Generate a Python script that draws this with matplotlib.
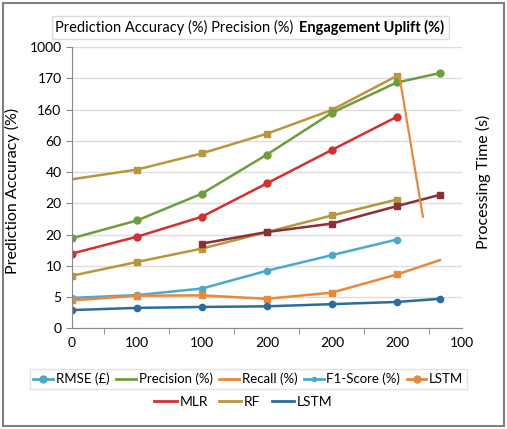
import matplotlib
matplotlib.use('Agg')
from matplotlib import pyplot as plt
from matplotlib.lines import Line2D
from matplotlib.patches import Rectangle

plt.rcParams['font.family'] = ['Lato', 'DejaVu Sans']

# category axis labels (as printed on the chart)
x_labels = ['0', '100', '100', '200', '200', '200', '100']
y_labels = ['0', '5', '10', '20', '20', '40', '60', '160', '170', '1000']

x_main = [0, 1, 2, 3, 4, 5]
x_ext = [0, 1, 2, 3, 4, 5, 5.66]

rf_top = [4.77, 5.08, 5.60, 6.23, 6.99, 8.08]
precision = [2.88, 3.45, 4.31, 5.56, 6.90, 7.87, 8.17]
mlr_red = [2.39, 2.93, 3.57, 4.64, 5.71, 6.77]
rf_low = [1.68, 2.12, 2.55, 3.08, 3.61, 4.12]
mlr_dark_x = [2, 3, 4, 5, 5.66]
mlr_dark = [2.71, 3.08, 3.35, 3.91, 4.27]
f1 = [0.97, 1.06, 1.27, 1.84, 2.34, 2.84]
recall = [0.89, 1.04, 1.05, 0.94, 1.14, 1.72, 2.18]
lstm = [0.58, 0.65, 0.68, 0.70, 0.77, 0.84, 0.94]
drop_x = [5.04, 5.40]
drop_y = [8.06, 3.57]

c_green = '#6b9e3c'
c_red = '#d3302f'
c_maroon = '#8c2f36'
c_gold = '#b8963c'
c_lblue = '#4aaac8'
c_orange = '#e8883a'
c_blue = '#2a6c9c'

fig = plt.figure(figsize=(5.07, 4.29), dpi=100)
fig.patches.append(Rectangle((0.006, 0.007), 0.988, 0.986, transform=fig.transFigure,
                             fill=False, edgecolor='#808080', linewidth=1.5))
ax = fig.add_axes([0.142, 0.235, 0.769, 0.655])

ax.plot(x_main, rf_top, color=c_gold, lw=1.8, marker='s', ms=4.5, markevery=[1, 2, 3, 4, 5])
ax.plot(x_ext, precision, color=c_green, lw=1.8, marker='o', ms=5)
ax.plot(x_main, mlr_red, color=c_red, lw=1.8, marker='o', ms=5)
ax.plot(x_main, rf_low, color=c_gold, lw=1.8, marker='s', ms=4.5)
ax.plot(mlr_dark_x, mlr_dark, color=c_maroon, lw=1.8, marker='s', ms=4.5)
ax.plot(x_main, f1, color=c_lblue, lw=1.8, marker='o', ms=4.5)
ax.plot(x_ext, recall, color=c_orange, lw=1.8, marker='s', ms=4.5, markevery=[0, 1, 2, 3, 4, 5])
ax.plot(x_ext, lstm, color=c_blue, lw=1.8, marker='o', ms=4.5)
ax.plot(drop_x, drop_y, color=c_orange, lw=1.6)

ax.set_xlim(0, 6)
ax.set_ylim(0, 9)
ax.set_xticks(range(len(x_labels)))
ax.set_xticklabels(x_labels, fontsize=10)
ax.set_xticks([i + 0.5 for i in range(6)], minor=True)
ax.tick_params(axis='x', which='major', length=0, pad=6)
ax.tick_params(axis='x', which='minor', length=4, color='#888888')
ax.set_yticks(range(len(y_labels)))
ax.set_yticklabels(y_labels, fontsize=10)
ax.tick_params(axis='y', length=4, color='#888888')
ax.grid(axis='y', color='#dddddd', lw=1)
ax.set_axisbelow(True)
for s in ['top', 'right']:
    ax.spines[s].set_visible(False)
for s in ['left', 'bottom']:
    ax.spines[s].set_color('#888888')

ax.set_ylabel('Prediction Accuracy (%)', fontsize=11.5)
ax.yaxis.set_label_coords(-0.133, 0.49)
fig.text(0.953, 0.575, 'Processing Time (s)', rotation=90, fontsize=11.5,
         ha='center', va='center')

# top legend box (titles only)
fig.patches.append(Rectangle((0.102, 1 - 39 / 429), (449 - 52) / 507, 23 / 429,
                             transform=fig.transFigure, fill=True, fc='white',
                             edgecolor='#dddddd', linewidth=1))
fig.text(55 / 507, 1 - 27.5 / 429, 'Prediction Accuracy (%) Precision (%)', fontsize=10.5,
         va='center', ha='left')
fig.text(444 / 507, 1 - 27.5 / 429, 'Engagement Uplift (%)', fontsize=10.5,
         fontweight='bold', va='center', ha='right')

row1 = [
    Line2D([], [], color=c_lblue, lw=2, marker='o', ms=5),
    Line2D([], [], color=c_green, lw=2),
    Line2D([], [], color=c_orange, lw=2),
    Line2D([], [], color=c_lblue, lw=2, marker='o', ms=3),
    Line2D([], [], color=c_orange, lw=2, marker='o', ms=5),
]
row1_labels = ['RMSE (£)', 'Precision (%)', 'Recall (%)', 'F1-Score (%)', 'LSTM']
leg1 = fig.legend(row1, row1_labels, loc='center', bbox_to_anchor=(0.49, 0.1165), ncol=5,
                  fontsize=9.5, frameon=True, fancybox=False, edgecolor='#dddddd',
                  handlelength=1.5, handletextpad=0.2, columnspacing=0.5,
                  borderpad=0.3)
row2 = [
    Line2D([], [], color=c_red, lw=2),
    Line2D([], [], color=c_gold, lw=2),
    Line2D([], [], color=c_blue, lw=2),
]
fig.legend(row2, ['MLR', 'RF', 'LSTM'], loc='center', bbox_to_anchor=(0.48, 0.063), ncol=3,
           fontsize=10, frameon=False, handlelength=1.6, handletextpad=0.2,
           columnspacing=0.8)

fig.savefig('out.png', dpi=100)
